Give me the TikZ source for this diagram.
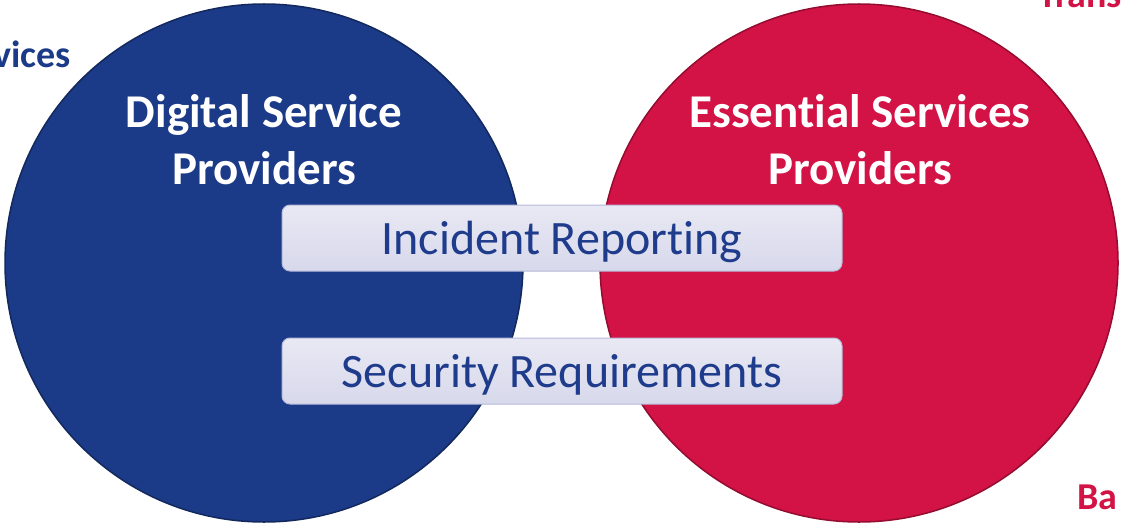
\documentclass[tikz,border=0pt]{standalone}
\usepackage{fontspec}
\setmainfont{Carlito}[Ligatures=NoCommon]
\usetikzlibrary{positioning}

\definecolor{dspblue}{HTML}{1B3A87}
\definecolor{espred}{HTML}{D31245}
\definecolor{itemtext}{HTML}{1F3C8C}
\definecolor{itemline}{HTML}{B6B9D9}
\definecolor{itemtop}{HTML}{E9E9F4}
\definecolor{itembottom}{HTML}{D7D8EB}

\begin{document}
\begin{tikzpicture}[x=1pt, y=-1pt, node distance=66pt,
    ring/.style={draw, circle, line width=1.5pt, minimum size=518pt, inner sep=0pt},
    heading/.style={white, align=center, anchor=base, font=\fontsize{47}{57}\selectfont\bfseries},
    item/.style={draw=itemline, line width=1pt, rounded corners=8pt, top color=itemtop, bottom color=itembottom,
        minimum width=560pt, minimum height=66pt, text height=32pt, text depth=0pt, inner sep=0pt,
        text=itemtext, font=\fontsize{48}{56}\selectfont},
    sidelabel/.style={inner sep=0pt, font=\fontsize{38}{42}\selectfont\bfseries}]
                \useasboundingbox (0,0) rectangle (1121,524);
                \clip (0,0) rectangle (1121,524);

                % Sector names at the edges
                \node [sidelabel, text=dspblue, anchor=base east] (dsplabel) at (71,68) {vices};
                \node [sidelabel, text=espred, anchor=base west] (esplabel) at (1038,8) {Trans};
                \node [sidelabel, text=espred, anchor=base west] (bank) at (1077,509) {Ba};

                % Circles
                \node [ring, draw=dspblue!70!black, fill=dspblue] (dsp) at (264,263) {};
                \node [ring, draw=espred!70!black, fill=espred] (esp) at (859,263) {};
                % base sits on the last line
                \node [heading] (dsptitle) at (264,184) {Digital Service\\Providers};
                \node [heading] (esptitle) at (860,184) {Essential Services\\Providers};

                % Shared obligations
                \node [item] (incident) at (562,238) {Incident Reporting};
                \node [item, below=of incident] (security) {Security Requirements};
            \end{tikzpicture}
\end{document}
